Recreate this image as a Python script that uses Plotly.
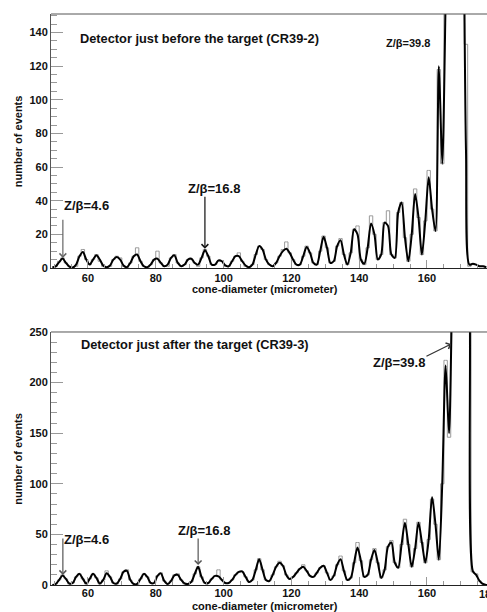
import plotly.graph_objects as go

# ---------------- data ----------------
# bin centres (1 micrometer bins) -- top panel (CR39-2)
top_x = [49.5 + i for i in range(129)]
top_hist = [0, 1, 4, 6, 3, 1, 0, 1, 7, 11, 5, 2, 5, 8, 4, 1, 0, 1, 5, 7,
            6, 1, 0, 3, 7, 12, 4, 1, 0, 2, 5, 10, 3, 1, 1, 6, 8, 3, 1, 2,
            5, 5, 3, 1, 6, 11, 7, 2, 2, 4, 4, 1, 1, 4, 7, 9, 4, 1, 0, 2,
            8, 13, 11, 5, 2, 1, 3, 7, 11, 15.5, 9, 5, 2, 2, 7, 13, 9, 3, 2, 10,
            19, 12, 3, 4, 13, 17.5, 8, 2, 9, 23, 25, 5, 2, 12, 31, 20, 5, 8, 27, 34,
            8, 6, 33, 39, 18, 4, 20, 47, 30, 8, 28, 58, 35, 22, 118, 62, 160, 280, 300, 320,
            280, 240, 133, 1, 2, 2, 1, 1, 0]
top_fit = [0.5, 1, 3.5, 5.6, 3, 0.8, 0.3, 2, 7, 9.5, 5, 2, 5, 7.6, 5, 1.5, 0.5, 1.5, 5, 6.5,
           5, 1.5, 0.5, 3, 7, 8, 4, 1, 0.5, 2, 5, 5.5, 3, 1, 2, 6, 7.5, 3, 1, 2,
           5, 5.5, 3, 2, 6, 10.5, 7, 2, 2, 4.5, 4, 1.5, 1, 4, 7, 7, 4, 1.5, 0.5, 2,
           8, 13, 11, 5, 2, 1, 3, 7, 10, 11.5, 9, 5, 2, 2, 7, 12.5, 9, 3, 2, 10,
           18.5, 12, 3, 4, 13, 16.5, 8, 2, 9, 23, 20, 5, 2.5, 12, 26.5, 20, 5, 8, 27, 25,
           8, 6, 33, 39, 18, 4, 20, 44, 30, 8, 28, 54, 35, 22, 120, 62, 160, 280, 300, 320,
           280, 240, 70, 2, 2.5, 2, 1, 1, 0.5]

# bottom panel (CR39-3)
bot_x = [49.5 + i for i in range(131)]
bot_hist = [0, 1, 5, 10, 6, 1, 2, 8, 11, 6, 1, 6, 11, 7, 1, 5, 14, 8, 2, 1,
            6, 13, 15, 5, 1, 0, 6, 11, 8, 2, 2, 9, 12, 4, 1, 4, 10, 11, 5, 1,
            1, 3, 11, 18, 8, 2, 2, 6, 9, 15, 5, 2, 2, 5, 10, 13, 13, 8, 3, 5,
            15, 26, 15, 5, 4, 10, 18, 23.5, 19, 10, 6, 8, 12, 16, 20, 14, 9, 8, 12, 17,
            19, 12, 5, 9, 20, 28.6, 14, 5, 7, 22, 42, 24, 8, 10, 25, 36, 22, 7, 15, 38,
            44, 22, 17, 40, 65, 40, 18, 36, 62, 42, 22, 45, 85, 60, 25, 100, 222, 146, 300, 400,
            420, 400, 320, 290, 13, 11, 4, 1, 0, 0, 0]
bot_fit = [0, 1, 5, 9.5, 6, 1.5, 2, 8, 11, 6, 1.5, 6, 11, 7, 1.5, 5, 11.5, 8, 2, 1.5,
           6, 13, 14, 5, 1, 1, 6, 11, 8, 2, 2, 9, 11.5, 4, 1, 4, 9.5, 10, 5, 1.5,
           1, 3, 11, 18, 8, 2, 2, 6, 9, 8.5, 5, 2, 2, 5, 10, 13, 13.5, 8, 3, 5,
           15, 25.5, 15, 5, 4, 10, 18, 22, 19, 10, 6, 8, 12, 16, 18, 14, 9, 8, 12, 17,
           19, 12, 5, 9, 20, 25.5, 14, 5, 7, 22, 37, 24, 8, 10, 25, 34.6, 22, 7, 15, 38,
           42, 22, 17, 40, 61.6, 40, 18, 36, 61.6, 42, 22, 45, 87, 60, 25, 100, 217, 150, 300, 400,
           420, 400, 320, 290, 14, 10, 4, 1, 0, 0, 0]

top_yticks = [0, 20, 40, 60, 80, 100, 120, 140]
bot_yticks = [0, 50, 100, 150, 200, 250]
xticks = [60, 80, 100, 120, 140, 160, 180]

FONT = "Liberation Sans, Arial, Helvetica, sans-serif"
HIST_COL = "#9a9a9a"
AX_COL = "#555555"
TICK_COL = "#999999"

fig = go.Figure()

# histograms (step) + fitted curves
fig.add_trace(go.Scatter(x=top_x, y=top_hist, mode="lines", line=dict(shape="hvh", color=HIST_COL, width=1),
                         xaxis="x", yaxis="y", showlegend=False, hoverinfo="skip"))
fig.add_trace(go.Scatter(x=top_x, y=top_fit, mode="lines", line=dict(shape="spline", smoothing=0.8, color="black", width=2),
                         xaxis="x", yaxis="y", showlegend=False))
fig.add_trace(go.Scatter(x=bot_x, y=bot_hist, mode="lines", line=dict(shape="hvh", color=HIST_COL, width=1),
                         xaxis="x2", yaxis="y2", showlegend=False, hoverinfo="skip"))
fig.add_trace(go.Scatter(x=bot_x, y=bot_fit, mode="lines", line=dict(shape="spline", smoothing=0.8, color="black", width=2),
                         xaxis="x2", yaxis="y2", showlegend=False))

def xaxis_style(anchor, standoff):
    return dict(
        range=[49.1, 177.7], anchor=anchor, domain=[0, 1], automargin=False,
        tickvals=xticks, ticks="inside", ticklen=8, tickcolor=TICK_COL, tickwidth=1,
        minor=dict(ticks="inside", ticklen=4, dtick=5, tick0=0, tickcolor=TICK_COL, tickwidth=1),
        showline=True, linecolor="#222222", linewidth=1, showgrid=False, zeroline=False,
        tickfont=dict(family=FONT, size=11, color="#111", weight="bold"),
        ticklabelstandoff=standoff,
    )

def yaxis_style(anchor, rng, ticks, dom, mdt):
    return dict(
        range=rng, anchor=anchor, domain=dom, automargin=False,
        tickvals=ticks, ticks="inside", ticklen=12, tickcolor=TICK_COL, tickwidth=1,
        minor=dict(ticks="inside", ticklen=6, dtick=mdt, tick0=0, tickcolor=TICK_COL, tickwidth=1),
        showline=True, linecolor=AX_COL, linewidth=1, showgrid=False, zeroline=False,
        tickfont=dict(family=FONT, size=11, color="#111", weight="bold"),
        ticklabelstandoff=0,
    )

fig.update_layout(
    template="none",
    width=487, height=612,
    margin=dict(l=51, r=0, t=14, b=27, autoexpand=False),
    plot_bgcolor="white", paper_bgcolor="white",
    xaxis=xaxis_style("y", 0),
    yaxis=yaxis_style("x", [0, 151], top_yticks, [0.5552, 1.0], 5),
    xaxis2=xaxis_style("y2", -2),
    yaxis2=yaxis_style("x2", [0, 250], bot_yticks, [0.0, 0.4431], 10),
    font=dict(family=FONT),
)

# top frame lines
for yr in ["y domain", "y2 domain"]:
    xr = "x domain" if yr == "y domain" else "x2 domain"
    fig.add_shape(type="line", xref=xr, yref=yr, x0=0, x1=1, y0=1, y1=1,
                  line=dict(color=AX_COL, width=1))

ann = []
def txt(text, x, y, xref, yref, size, xanchor="left", angle=0):
    ann.append(dict(text=text, x=x, y=y, xref=xref, yref=yref, showarrow=False,
                    xanchor=xanchor, yanchor="middle", textangle=angle,
                    font=dict(family=FONT, size=size, color="#111", weight="bold")))

def arrow(x, y, ax, ay, xref, yref, color):
    ann.append(dict(text="", x=x, y=y, ax=ax, ay=ay, xref=xref, yref=yref, axref=xref, ayref=yref,
                    showarrow=True, arrowhead=4, arrowsize=1.1, arrowwidth=1.2, arrowcolor=color))

# panel titles
txt("Detector just before the target (CR39-2)", 0.061, 0.905, "x domain", "y domain", 12.8)
txt("Detector just after the target (CR39-3)", 0.064, 0.952, "x2 domain", "y2 domain", 12.8)

# top labels
txt("Z/β=4.6", 52.2, 37.2, "x", "y", 13)
arrow(52.6, 6.0, 52.6, 29.6, "x", "y", "#666")
txt("Z/β=16.8", 88.9, 47.4, "x", "y", 13)
arrow(94.5, 11.5, 94.5, 43.3, "x", "y", "#111")
txt("Z/β=39.8", 147.3, 133.7, "x", "y", 11)

# bottom labels
txt("Z/β=4.6", 52.2, 44.5, "x2", "y2", 13)
arrow(52.6, 10.0, 52.6, 47.4, "x2", "y2", "#555")
txt("Z/β=16.8", 86.0, 54.3, "x2", "y2", 13)
arrow(92.5, 19.8, 92.5, 47.4, "x2", "y2", "#555")
txt("Z/β=39.8", 143.6, 219.4, "x2", "y2", 13)
arrow(167.1, 238.1, 159.4, 225.3, "x2", "y2", "#333")

# axis titles
txt("cone-diameter (micrometer)", 134.35, -0.081, "x", "y domain", 11, xanchor="right")
txt("cone-diameter (micrometer)", 134.35, -0.083, "x2", "y2 domain", 11, xanchor="right")
txt("number of events", -0.075, 0.5, "paper", "y domain", 11, xanchor="center", angle=-90)
txt("number of events", -0.075, 0.5, "paper", "y2 domain", 11, xanchor="center", angle=-90)
# partially visible 180 label at right edge of lower axis
txt("180", 0.976, -0.037, "paper", "y2 domain", 11)

fig.update_layout(annotations=ann)
fig.write_html("out.html", config={"displayModeBar": False},
               post_script="document.body.style.margin='0px';document.body.style.overflow='hidden';")
